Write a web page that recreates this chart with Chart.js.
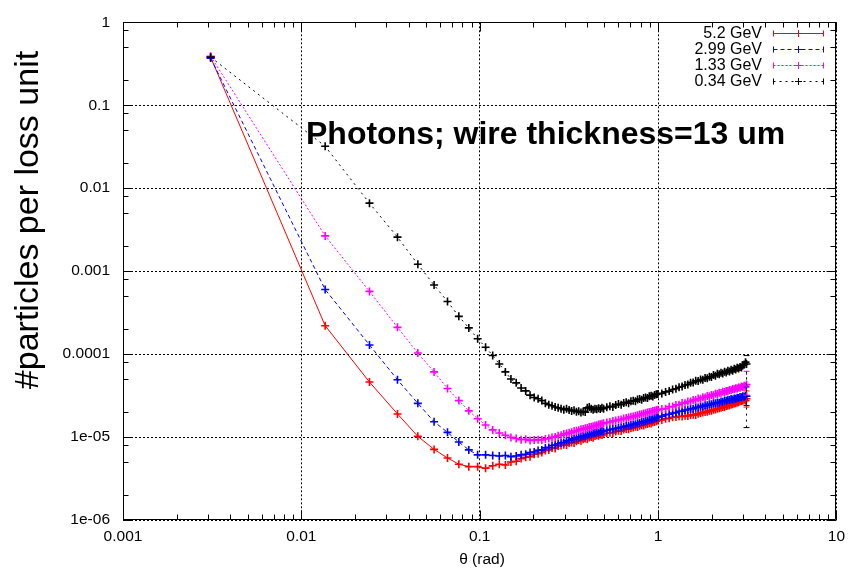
<!DOCTYPE html>
<html>
<head>
<meta charset="utf-8">
<script src="https://cdn.jsdelivr.net/npm/chart.js@4.4.1/dist/chart.umd.min.js"></script>
<style>
  html, body { margin: 0; padding: 0; background: #fff; }
</style>
</head>
<body>
<canvas id="chart" width="852" height="570"></canvas>
<script>
// theta bin centres (rad)
const THETA = [
  0.0031, 0.0136, 0.0241, 0.0346, 0.0450, 0.0555, 0.0660, 0.0764, 0.0869, 0.0974, 0.1079,
  0.1183, 0.1288, 0.1393, 0.1497, 0.1602, 0.1707, 0.1811, 0.1916, 0.2021, 0.2126, 0.2230, 0.2335, 0.2440, 0.2544, 0.2649, 0.2754, 0.2859, 0.2963, 0.3068,
  0.3173, 0.3278, 0.3382, 0.3487, 0.3592, 0.3696, 0.3801, 0.3906, 0.4011, 0.4115, 0.4220, 0.4325, 0.4430, 0.4534, 0.4639, 0.4744, 0.4848, 0.4953,
  0.5162, 0.5372, 0.5581, 0.5791, 0.6000, 0.6210, 0.6419, 0.6629, 0.6838, 0.7047, 0.7257, 0.7466,
  0.7676, 0.7885, 0.8095, 0.8304, 0.8514, 0.8723, 0.8932, 0.9142, 0.9351, 0.9561, 0.9770, 0.9980,
  1.0503, 1.1027, 1.1550, 1.2074, 1.2598, 1.3121, 1.3645, 1.4168, 1.4692, 1.5216,
  1.5739, 1.6263, 1.6786, 1.7310, 1.7834, 1.8357, 1.8881, 1.9404, 1.9928, 2.0452,
  2.0975, 2.1499, 2.2022, 2.2546, 2.3070, 2.3593, 2.4117, 2.4640, 2.5164, 2.5688,
  2.6211, 2.6735, 2.7258, 2.7782, 2.8306, 2.8829, 2.9353, 2.9876, 3.0400, 3.0924,
  3.1342
];

// 5.2 GeV
const RED = [
  0.38, 2.2e-4, 4.6e-5, 1.9e-5, 1.02e-5, 7.1e-6, 5.6e-6, 4.7e-6, 4.4e-6, 4.4e-6, 4.2e-6,
  4.5e-6, 4.7e-6, 4.6e-6, 5.0e-6, 5.1e-6, 5.5e-6, 5.7e-6, 5.8e-6, 6.2e-6, 6.3e-6, 6.5e-6, 6.9e-6, 7.0e-6, 7.4e-6, 7.3e-6, 7.8e-6, 7.9e-6, 8.1e-6, 8.0e-6,
  8.5e-6, 8.6e-6, 8.5e-6, 8.9e-6, 9.2e-6, 9.0e-6, 9.4e-6, 9.6e-6, 9.5e-6, 9.9e-6, 1.0e-5, 9.8e-6, 1.03e-5, 1.05e-5, 1.04e-5, 1.07e-5, 1.06e-5, 1.09e-5,
  1.11e-5, 1.13e-5, 1.12e-5, 1.17e-5, 1.19e-5, 1.18e-5, 1.23e-5, 1.25e-5, 1.24e-5, 1.29e-5, 1.30e-5, 1.33e-5,
  1.32e-5, 1.37e-5, 1.39e-5, 1.38e-5, 1.43e-5, 1.44e-5, 1.47e-5, 1.46e-5, 1.51e-5, 1.52e-5, 1.55e-5, 1.58e-5,
  1.61e-5, 1.66e-5, 1.68e-5, 1.73e-5, 1.74e-5, 1.78e-5, 1.77e-5, 1.81e-5, 1.80e-5, 1.84e-5,
  1.86e-5, 1.85e-5, 1.91e-5, 1.93e-5, 1.97e-5, 2.00e-5, 2.02e-5, 2.07e-5, 2.08e-5, 2.13e-5,
  2.15e-5, 2.19e-5, 2.22e-5, 2.25e-5, 2.31e-5, 2.30e-5, 2.37e-5, 2.39e-5, 2.42e-5, 2.47e-5,
  2.48e-5, 2.54e-5, 2.56e-5, 2.61e-5, 2.63e-5, 2.70e-5, 2.72e-5, 2.76e-5, 2.81e-5, 2.74e-5,
  2.9e-5
];

// 2.99 GeV
const BLUE = [
  0.37, 6.0e-4, 1.29e-4, 4.9e-5, 2.55e-5, 1.53e-5, 1.14e-5, 8.7e-6, 7.0e-6, 6.1e-6, 6.1e-6,
  6.0e-6, 5.9e-6, 6.0e-6, 5.8e-6, 5.9e-6, 6.1e-6, 6.2e-6, 6.5e-6, 6.6e-6, 6.9e-6, 7.0e-6, 7.4e-6, 7.5e-6, 7.9e-6, 8.0e-6, 8.3e-6, 8.5e-6, 8.6e-6, 9.0e-6,
  9.1e-6, 9.4e-6, 9.5e-6, 9.7e-6, 9.9e-6, 1.01e-5, 1.03e-5, 1.02e-5, 1.06e-5, 1.08e-5, 1.07e-5, 1.11e-5, 1.12e-5, 1.14e-5, 1.13e-5, 1.17e-5, 1.18e-5, 1.17e-5,
  1.21e-5, 1.23e-5, 1.25e-5, 1.27e-5, 1.29e-5, 1.31e-5, 1.33e-5, 1.36e-5, 1.37e-5, 1.40e-5, 1.42e-5, 1.43e-5,
  1.47e-5, 1.48e-5, 1.52e-5, 1.53e-5, 1.56e-5, 1.58e-5, 1.60e-5, 1.63e-5, 1.64e-5, 1.68e-5, 1.70e-5, 1.73e-5,
  1.79e-5, 1.86e-5, 1.88e-5, 1.95e-5, 1.97e-5, 2.04e-5, 2.05e-5, 2.12e-5, 2.13e-5, 2.19e-5,
  2.20e-5, 2.27e-5, 2.27e-5, 2.34e-5, 2.34e-5, 2.41e-5, 2.41e-5, 2.48e-5, 2.48e-5, 2.55e-5,
  2.55e-5, 2.61e-5, 2.60e-5, 2.68e-5, 2.67e-5, 2.75e-5, 2.73e-5, 2.81e-5, 2.79e-5, 2.87e-5,
  2.84e-5, 2.92e-5, 2.90e-5, 2.98e-5, 2.96e-5, 3.04e-5, 3.01e-5, 3.10e-5, 3.07e-5, 3.15e-5,
  3.1e-5
];

// 1.33 GeV
const MAGENTA = [
  0.39, 2.66e-3, 5.7e-4, 2.1e-4, 1.03e-4, 6.1e-5, 3.85e-5, 2.75e-5, 2.07e-5, 1.66e-5, 1.40e-5,
  1.22e-5, 1.12e-5, 1.05e-5, 9.9e-6, 9.6e-6, 9.3e-6, 9.4e-6, 9.1e-6, 9.2e-6, 9.3e-6, 9.2e-6, 9.5e-6, 9.6e-6, 9.9e-6, 1.0e-5, 1.04e-5, 1.05e-5, 1.09e-5, 1.1e-5,
  1.13e-5, 1.14e-5, 1.18e-5, 1.19e-5, 1.21e-5, 1.24e-5, 1.25e-5, 1.28e-5, 1.29e-5, 1.32e-5, 1.33e-5, 1.35e-5, 1.38e-5, 1.38e-5, 1.42e-5, 1.43e-5, 1.45e-5, 1.47e-5,
  1.50e-5, 1.52e-5, 1.56e-5, 1.58e-5, 1.62e-5, 1.63e-5, 1.67e-5, 1.70e-5, 1.72e-5, 1.76e-5, 1.77e-5, 1.81e-5,
  1.83e-5, 1.87e-5, 1.88e-5, 1.92e-5, 1.94e-5, 1.97e-5, 2.00e-5, 2.02e-5, 2.06e-5, 2.07e-5, 2.11e-5, 2.13e-5,
  2.18e-5, 2.20e-5, 2.32e-5, 2.33e-5, 2.44e-5, 2.45e-5, 2.57e-5, 2.56e-5, 2.68e-5, 2.68e-5,
  2.79e-5, 2.79e-5, 2.91e-5, 2.89e-5, 3.02e-5, 3.00e-5, 3.12e-5, 3.10e-5, 3.22e-5, 3.20e-5,
  3.32e-5, 3.30e-5, 3.42e-5, 3.39e-5, 3.51e-5, 3.49e-5, 3.60e-5, 3.58e-5, 3.70e-5, 3.67e-5,
  3.79e-5, 3.76e-5, 3.88e-5, 3.84e-5, 3.97e-5, 3.93e-5, 4.06e-5, 4.01e-5, 4.15e-5, 4.10e-5,
  4.3e-5
];

// 0.34 GeV
const BLACK = [
  0.38, 0.032, 6.6e-3, 2.57e-3, 1.21e-3, 6.8e-4, 4.3e-4, 2.85e-4, 2.07e-4, 1.53e-4, 1.21e-4,
  9.6e-5, 7.6e-5, 6.1e-5, 5.0e-5, 4.5e-5, 3.9e-5, 3.6e-5, 3.2e-5, 3.0e-5, 2.9e-5, 2.75e-5, 2.55e-5, 2.45e-5, 2.38e-5, 2.3e-5, 2.25e-5, 2.2e-5, 2.14e-5, 2.2e-5,
  2.12e-5, 2.06e-5, 2.1e-5, 2.02e-5, 2.05e-5, 1.98e-5, 2.03e-5, 2.0e-5, 2.25e-5, 2.3e-5, 2.2e-5, 2.14e-5, 2.2e-5, 2.16e-5, 2.23e-5, 2.18e-5, 2.26e-5, 2.2e-5,
  2.28e-5, 2.35e-5, 2.31e-5, 2.44e-5, 2.5e-5, 2.45e-5, 2.58e-5, 2.62e-5, 2.56e-5, 2.7e-5, 2.74e-5, 2.7e-5,
  2.84e-5, 2.88e-5, 2.82e-5, 2.96e-5, 3.0e-5, 2.95e-5, 3.1e-5, 3.14e-5, 3.08e-5, 3.22e-5, 3.27e-5, 3.3e-5,
  3.36e-5, 3.5e-5, 3.58e-5, 3.75e-5, 3.82e-5, 3.98e-5, 4.06e-5, 4.24e-5, 4.3e-5, 4.5e-5,
  4.56e-5, 4.78e-5, 4.75e-5, 4.95e-5, 4.9e-5, 5.15e-5, 5.1e-5, 5.32e-5, 5.3e-5, 5.6e-5,
  5.5e-5, 5.78e-5, 5.7e-5, 5.95e-5, 5.85e-5, 6.12e-5, 6.0e-5, 6.3e-5, 6.15e-5, 6.48e-5,
  6.3e-5, 6.65e-5, 6.5e-5, 6.85e-5, 6.7e-5, 7.0e-5, 6.9e-5, 7.3e-5, 7.5e-5, 8.0e-5,
  7.6e-5
];

// error bar limits on the last bin of each series (red, blue, magenta, black)
const ERR_LOW = [2.3e-5, 2.4e-5, 3.2e-5, 1.3e-5];
const ERR_HIGH = [3.6e-5, 4.0e-5, 6.2e-5, 9.6e-5];

const SERIES_LABELS = ["5.2 GeV", "2.99 GeV", "1.33 GeV", "0.34 GeV"];
const X_TICKS = [0.001, 0.01, 0.1, 1, 10];
const X_TICK_LABELS = ["0.001", "0.01", "0.1", "1", "10"];
const Y_TICKS = [1e-6, 1e-5, 1e-4, 0.001, 0.01, 0.1, 1];
const Y_TICK_LABELS = ["1e-06", "1e-05", "0.0001", "0.001", "0.01", "0.1", "1"];
const X_MINOR = [2, 3, 4, 5, 6, 7, 8, 9];
const Y_MINOR = [2, 5, 8];

const COLORS = ["#ff0000", "#0000ff", "#ff00ff", "#000000"];
const DASHES = [[], [4, 3], [2, 2], [2, 4]];
const FONT = "'Liberation Sans', Arial, sans-serif";

Chart.defaults.font.family = FONT;
Chart.defaults.color = "#000";

const datasets = [RED, BLUE, MAGENTA, BLACK].map(function (ys, k) {
  return {
    label: SERIES_LABELS[k],
    data: ys.map(function (v, i) { return { x: THETA[i], y: v }; }),
    borderColor: COLORS[k],
    backgroundColor: COLORS[k],
    borderWidth: 1,
    borderDash: DASHES[k],
    pointStyle: "cross",
    pointRadius: 4,
    pointBorderWidth: 1.6,
    pointBorderColor: COLORS[k],
    tension: 0,
    fill: false,
    order: 3 - k,
  };
});

// gnuplot style frame, inward ticks, error bars, key and labels
const decor = {
  id: "decor",
  afterDatasetsDraw(chart) {
    const ctx = chart.ctx;
    const a = chart.chartArea;
    const x = chart.scales.x;
    const y = chart.scales.y;

    // error bars
    chart.data.datasets.forEach(function (ds, k) {
      const last = ds.data[ds.data.length - 1];
      const px = x.getPixelForValue(last.x);
      const y0 = y.getPixelForValue(ERR_LOW[k]);
      const y1 = y.getPixelForValue(ERR_HIGH[k]);
      ctx.save();
      ctx.strokeStyle = ds.borderColor;
      ctx.lineWidth = 1;
      ctx.setLineDash(ds.borderDash);
      ctx.beginPath();
      ctx.moveTo(px, y0); ctx.lineTo(px, y1);
      ctx.stroke();
      ctx.setLineDash([]);
      ctx.beginPath();
      ctx.moveTo(px - 3, y0); ctx.lineTo(px + 3, y0);
      ctx.moveTo(px - 3, y1); ctx.lineTo(px + 3, y1);
      ctx.stroke();
      ctx.restore();
    });

    // frame and ticks
    const L = Math.round(a.left) + 0.5, R = Math.round(a.right) - 0.5;
    const T = Math.round(a.top) + 0.5, B = Math.round(a.bottom) - 0.5;
    ctx.save();
    ctx.strokeStyle = "#000";
    ctx.lineWidth = 1;
    ctx.beginPath();
    ctx.rect(L, T, R - L, B - T);
    X_TICKS.forEach(function (d, i) {
      const marks = [[d, 9]];
      if (i < X_TICKS.length - 1) X_MINOR.forEach(function (m) { marks.push([d * m, 5]); });
      marks.forEach(function (mk) {
        const p = Math.round(x.getPixelForValue(mk[0])) + 0.5;
        ctx.moveTo(p, B); ctx.lineTo(p, B - mk[1]);
        ctx.moveTo(p, T); ctx.lineTo(p, T + mk[1]);
      });
    });
    Y_TICKS.forEach(function (d, i) {
      const marks = [[d, 9]];
      if (i < Y_TICKS.length - 1) Y_MINOR.forEach(function (m) { marks.push([d * m, 5]); });
      marks.forEach(function (mk) {
        const p = Math.round(y.getPixelForValue(mk[0])) + 0.5;
        ctx.moveTo(L, p); ctx.lineTo(L + mk[1], p);
        ctx.moveTo(R, p); ctx.lineTo(R - mk[1], p);
      });
    });
    ctx.stroke();
    ctx.restore();
  },
  afterDraw(chart) {
    const ctx = chart.ctx;
    ctx.save();
    ctx.fillStyle = "#000";

    // key, top right
    chart.data.datasets.forEach(function (ds, k) {
      const ry = 33 + 16 * k + 0.5;
      ctx.font = "16px " + FONT;
      ctx.textAlign = "right";
      ctx.textBaseline = "middle";
      ctx.fillText(ds.label, 762, ry);
      ctx.strokeStyle = ds.borderColor;
      ctx.lineWidth = 1;
      ctx.setLineDash(ds.borderDash);
      ctx.beginPath();
      ctx.moveTo(773.5, ry); ctx.lineTo(823.5, ry);
      ctx.stroke();
      ctx.setLineDash([]);
      ctx.beginPath();
      ctx.moveTo(773.5, ry - 3); ctx.lineTo(773.5, ry + 3);
      ctx.moveTo(823.5, ry - 3); ctx.lineTo(823.5, ry + 3);
      ctx.moveTo(798.5, ry - 3.5); ctx.lineTo(798.5, ry + 3.5);
      ctx.moveTo(795, ry); ctx.lineTo(802, ry);
      ctx.stroke();
    });

    // label inside the plot
    ctx.font = "bold 32px " + FONT;
    ctx.textAlign = "left";
    ctx.textBaseline = "alphabetic";
    ctx.fillText("Photons; wire thickness=13 um", 306, 144);

    // axis titles
    ctx.font = "15.5px " + FONT;
    ctx.textAlign = "center";
    ctx.textBaseline = "middle";
    ctx.fillText("\u03b8 (rad)", 482, 560);

    ctx.translate(38, 220);
    ctx.rotate(-Math.PI / 2);
    ctx.font = "34px " + FONT;
    ctx.textAlign = "center";
    ctx.textBaseline = "alphabetic";
    ctx.fillText("#particles per loss unit", 0, 0);
    ctx.restore();
  },
};

new Chart(document.getElementById("chart"), {
  type: "line",
  data: { datasets: datasets },
  options: {
    responsive: false,
    animation: false,
    events: [],
    layout: { padding: { top: 17, right: 10, left: 0, bottom: 0 } },
    plugins: { legend: { display: false }, tooltip: { enabled: false } },
    scales: {
      x: {
        type: "logarithmic",
        min: 0.001,
        max: 10,
        afterBuildTicks: function (s) { s.ticks = X_TICKS.map(function (v) { return { value: v, major: true }; }); },
        afterFit: function (s) { s.height = 50; },
        grid: { color: "#000", lineWidth: 1, drawTicks: false },
        border: { display: false, dash: [2, 2] },
        ticks: {
          callback: function (v, i) { return X_TICK_LABELS[i]; },
          font: { size: 15.5 },
          color: "#000",
          padding: 7,
          maxRotation: 0,
          autoSkip: false,
        },
      },
      y: {
        type: "logarithmic",
        min: 1e-6,
        max: 1,
        afterBuildTicks: function (s) { s.ticks = Y_TICKS.map(function (v) { return { value: v, major: true }; }); },
        afterFit: function (s) { s.width = 123; },
        grid: { color: "#000", lineWidth: 1, drawTicks: false },
        border: { display: false, dash: [2, 2] },
        ticks: {
          callback: function (v, i) { return Y_TICK_LABELS[i]; },
          font: { size: 15.5 },
          color: "#000",
          padding: 13,
          autoSkip: false,
        },
      },
    },
  },
  plugins: [decor],
});
</script>
</body>
</html>
